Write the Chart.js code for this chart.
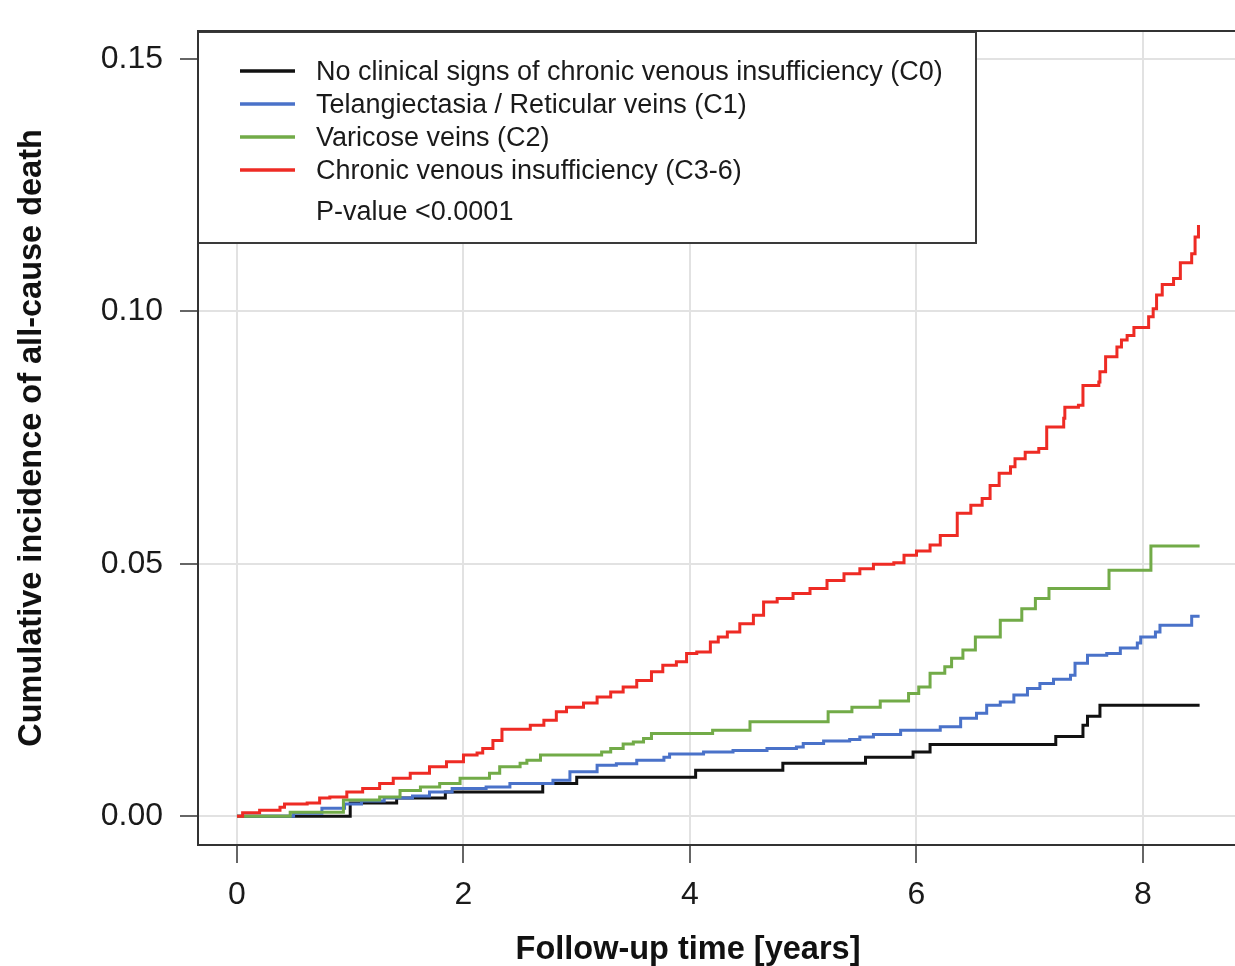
<!DOCTYPE html>
<html>
<head>
<meta charset="utf-8">
<script src="https://cdn.jsdelivr.net/npm/chart.js@4.4.1/dist/chart.umd.min.js"></script>
<style>
  html, body { margin: 0; padding: 0; background: #fff; overflow: hidden; }
  #wrap { width: 1240px; height: 966px; }
</style>
</head>
<body>
<div id="wrap"><canvas id="kmChart" width="1240" height="966"></canvas></div>
<script>
// cumulative incidence of all-cause death
const seriesLabels = [
  "No clinical signs of chronic venous insufficiency (C0)",
  "Telangiectasia / Reticular veins (C1)",
  "Varicose veins (C2)",
  "Chronic venous insufficiency (C3-6)",
];
const seriesColors = ["#111111", "#4a72c9", "#72ab48", "#ee2b24"];
const pValueText = "P-value <0.0001";
const xTitle = "Follow-up time [years]";
const yTitle = "Cumulative incidence of all-cause death";

const c0Time = [0, 1.0, 1.41, 1.84, 2.7, 3.0, 4.05, 4.82, 5.55, 5.97, 6.12, 7.23, 7.47, 7.51, 7.62, 8.5];
const c0Risk = [0, .0026, .0036, .0048, .0065, .0077, .0091, .0105, .0117, .0127, .0142, .0158, .018, .0198, .022, .022];

const c1Time = [0, .5, .75, .95, 1.1, 1.3, 1.55, 1.7, 1.9, 2.2,
  2.41, 2.79, 2.94, 3.18, 3.35, 3.53, 3.77, 3.82, 4.12, 4.38,
  4.68, 4.94, 5.0, 5.18, 5.41, 5.5, 5.62, 5.86, 6.21, 6.39,
  6.53, 6.62, 6.74, 6.86, 6.98, 7.09, 7.21, 7.36, 7.4, 7.51,
  7.68, 7.8, 7.95, 7.98, 8.11, 8.15, 8.43, 8.5];
const c1Risk = [0, .0006, .0016, .0024, .003, .0036, .004, .0048, .0055, .0058,
  .0065, .0071, .0088, .0101, .0104, .0111, .0117, .0123, .0127, .013,
  .0134, .0137, .0144, .0149, .0152, .0157, .0162, .017, .0177, .0194,
  .0204, .022, .0226, .024, .0253, .0263, .0271, .0279, .0303, .0319,
  .0322, .0333, .0343, .0355, .0365, .0378, .0396, .0396];

const c2Time = [0, .47, .94, 1.26, 1.44, 1.62, 1.79, 1.97, 2.23, 2.32,
  2.5, 2.56, 2.68, 3.22, 3.3, 3.41, 3.5, 3.59, 3.66, 4.2,
  4.53, 5.22, 5.43, 5.68, 5.93, 6.02, 6.12, 6.25, 6.31, 6.41,
  6.52, 6.74, 6.93, 7.05, 7.17, 7.7, 8.07, 8.5];
const c2Risk = [0, .0008, .0032, .0038, .0051, .0058, .0065, .0075, .0085, .0098,
  .0105, .0111, .0121, .0127, .0134, .0143, .0147, .0154, .0164, .017,
  .0187, .0207, .0216, .0228, .0243, .0256, .0283, .0296, .0313, .0329,
  .0355, .0388, .0411, .0431, .0451, .0487, .0535, .0535];

const c3Time = [0, .05, .2, .38, .42, .62, .73, .82, .97, 1.11,
  1.26, 1.38, 1.53, 1.7, 1.85, 2.0, 2.12, 2.17, 2.26, 2.34,
  2.59, 2.71, 2.82, 2.91, 3.06, 3.18, 3.3, 3.41, 3.53, 3.66,
  3.76, 3.88, 3.97, 4.06, 4.18, 4.25, 4.33, 4.44, 4.56, 4.65,
  4.77, 4.91, 5.06, 5.21, 5.36, 5.5, 5.62, 5.8, 5.89, 6.0,
  6.12, 6.21, 6.36, 6.48, 6.58, 6.65, 6.73, 6.83, 6.87, 6.96,
  7.08, 7.15, 7.3, 7.31, 7.43, 7.47, 7.61, 7.62, 7.67, 7.77,
  7.81, 7.86, 7.92, 8.05, 8.09, 8.12, 8.17, 8.27, 8.33, 8.43,
  8.46, 8.49];
const c3Risk = [0, .0007, .0012, .0018, .0024, .0026, .0036, .0038, .0048, .0055,
  .0065, .0075, .0085, .0098, .0108, .0121, .0125, .0134, .015, .0172,
  .018, .019, .0207, .0216, .0224, .0236, .0246, .0256, .0269, .0286,
  .0299, .0306, .0322, .0325, .0345, .0355, .0365, .0381, .0398, .0424,
  .0431, .0441, .0451, .0467, .048, .049, .0499, .0502, .0517, .0525,
  .0537, .0556, .06, .0616, .0629, .0655, .0679, .0692, .0708, .0721,
  .0728, .0771, .0788, .081, .0814, .0853, .086, .088, .091, .0929,
  .0943, .0952, .0968, .0989, .1005, .1032, .1053, .1065, .1096, .1114,
  .1147, .1171];

const xTicks = [0, 2, 4, 6, 8];
const xTickLabels = ["0", "2", "4", "6", "8"];
const yTicks = [0, 0.05, 0.10, 0.15];
const yTickLabels = ["0.00", "0.05", "0.10", "0.15"];

const FONT = "'Liberation Sans', Arial, Helvetica, sans-serif";

function toPoints(times, risks) {
  return times.map((t, i) => ({ x: t, y: risks[i] }));
}

const allSeries = [
  toPoints(c0Time, c0Risk),
  toPoints(c1Time, c1Risk),
  toPoints(c2Time, c2Risk),
  toPoints(c3Time, c3Risk),
];

const datasets = allSeries.map((pts, i) => ({
  label: seriesLabels[i],
  data: pts,
  borderColor: seriesColors[i],
  backgroundColor: seriesColors[i],
  borderWidth: 3,
  pointRadius: 0,
  stepped: true,
  fill: false,
  order: 4 - i,
}));

// R style legend box, frame and x title
const boxLegend = {
  id: "boxLegend",
  afterDatasetsDraw(chart) {
    const ctx = chart.ctx;
    const left = chart.chartArea.left;
    const top = chart.chartArea.top + 1;
    ctx.save();
    ctx.fillStyle = "#fff";
    ctx.fillRect(left, top, 778, 211);
    ctx.strokeStyle = "#3a3a3a";
    ctx.lineWidth = 2;
    ctx.strokeRect(left, top, 778, 211);
    ctx.font = "27px " + FONT;
    ctx.textBaseline = "middle";
    ctx.fillStyle = "#1a1a1a";
    chart.data.datasets.forEach((ds, i) => {
      const y = top + 39 + i * 33;
      ctx.strokeStyle = ds.borderColor;
      ctx.lineWidth = 3.5;
      ctx.beginPath();
      ctx.moveTo(left + 42, y);
      ctx.lineTo(left + 97, y);
      ctx.stroke();
      ctx.fillText(ds.label, left + 118, y + 2);
    });
    ctx.fillText(pValueText, left + 118, top + 181);
    ctx.restore();
  },
  afterDraw(chart) {
    const ctx = chart.ctx;
    const a = chart.chartArea;
    ctx.save();
    ctx.strokeStyle = "#333";
    ctx.lineWidth = 2;
    ctx.strokeRect(a.left, a.top, a.right - a.left, a.bottom - a.top);
    ctx.font = "bold 32.5px " + FONT;
    ctx.fillStyle = "#111";
    ctx.textAlign = "center";
    ctx.textBaseline = "middle";
    ctx.fillText(xTitle, a.left + 490, 950);
    ctx.restore();
  },
};

const ctx = document.getElementById("kmChart");

new Chart(ctx, {
  type: "line",
  data: { datasets },
  plugins: [boxLegend],
  options: {
    responsive: false,
    animation: false,
    devicePixelRatio: 1,
    layout: { padding: { top: 31, right: 2, left: 0, bottom: 0 } },
    plugins: {
      legend: { display: false },
      tooltip: { enabled: false },
    },
    scales: {
      x: {
        type: "linear",
        min: -0.344,
        max: 8.839,
        afterBuildTicks: (scale) => {
          scale.ticks = xTicks.map((v) => ({ value: v }));
        },
        afterFit: (scale) => {
          scale.height = 121;
          scale.paddingLeft = 0;
          scale.paddingRight = 0;
        },
        grid: {
          color: "#e2e2e2",
          lineWidth: 2,
          tickColor: "#333",
          tickWidth: 1.5,
          tickLength: 18,
        },
        border: { display: true, color: "#333", width: 2 },
        ticks: {
          padding: 13,
          color: "#1a1a1a",
          font: { family: FONT, size: 32 },
          maxRotation: 0,
          callback: (v) => xTickLabels[xTicks.indexOf(v)] ?? "",
        },
        title: { display: false },
      },
      y: {
        type: "linear",
        min: -0.0057,
        max: 0.1555,
        afterBuildTicks: (scale) => {
          scale.ticks = yTicks.map((v) => ({ value: v }));
        },
        afterFit: (scale) => {
          scale.width = 198;
          scale.paddingTop = 0;
          scale.paddingBottom = 0;
        },
        grid: {
          color: "#e2e2e2",
          lineWidth: 2,
          tickColor: "#333",
          tickWidth: 1.5,
          tickLength: 18,
        },
        border: { display: true, color: "#333", width: 2 },
        ticks: {
          padding: 17,
          color: "#1a1a1a",
          font: { family: FONT, size: 32 },
          callback: (v) => {
            const i = yTicks.findIndex((t) => Math.abs(t - v) < 1e-9);
            return i >= 0 ? yTickLabels[i] : "";
          },
        },
        title: {
          display: true,
          text: yTitle,
          color: "#111",
          font: { family: FONT, size: 32.5, weight: "bold" },
          padding: { top: 13, bottom: 0 },
        },
      },
    },
  },
});
</script>
</body>
</html>
